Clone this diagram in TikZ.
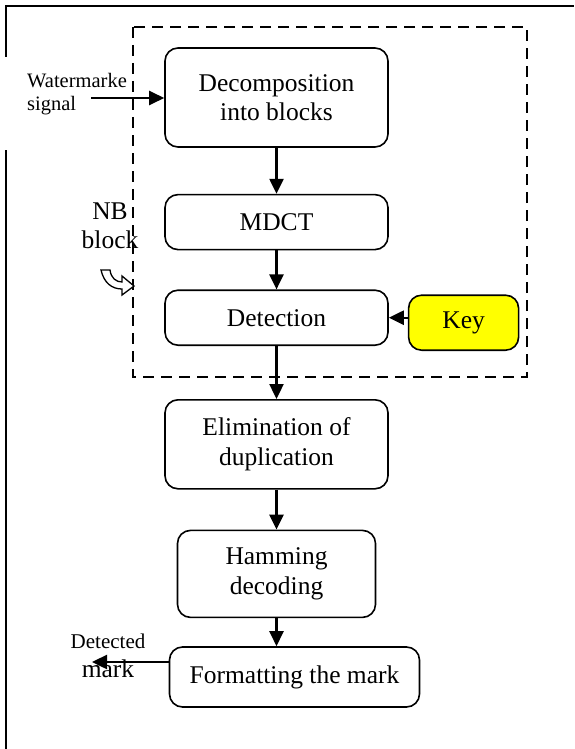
\documentclass[tikz,border=0pt]{standalone}
\usepackage{fontspec}
\setmainfont{Liberation Serif}
\usetikzlibrary{positioning}
\usetikzlibrary{arrows.meta}
\definecolor{keyyellow}{RGB}{255, 255, 0}

\begin{document}
\begin{tikzpicture}[x=1pt,y=-1pt,
  box/.style={rectangle,draw=black,line width=1.6pt,rounded corners=13pt,
    minimum width=223pt,minimum height=55pt,align=center,
    font=\fontsize{25.5}{29.5}\selectfont},
  keybox/.style={box,fill=keyyellow,minimum width=110pt},
  arr/.style={-{Triangle[length=15pt,width=14pt]},line width=2.4pt},
  lbl/.style={align=center,inner sep=0pt,font=\fontsize{25.5}{29.5}\selectfont},
  dashbox/.style={line width=2.8pt,dash pattern=on 11pt off 7pt}
]
  \useasboundingbox (0,0) rectangle (574,749);
  % frame
  \draw[line width=1.4pt] (6,57) -- (6,6) -- (574,6);
  \draw[line width=1.4pt] (6,150) -- (6,749);
  % NB block region
  \draw[dashbox] (133,27) rectangle (527,377);

  \node[box,minimum height=99pt] (dec) at (276.5,97.5)
    {Decomposition\\into blocks};
  \node[box,below=46pt of dec] (mdct) {MDCT};
  \node[box,below=39pt of mdct] (det) {Detection};
  \node[keybox,right=19pt of det,yshift=-5pt] (key) {Key};
  \node[box,minimum height=89pt,below=53pt of det] (elim)
    {Elimination of\\duplication};
  \node[box,minimum width=198pt,minimum height=87pt,below=40pt of elim] (ham)
    {Hamming\\decoding};
  \node[box,minimum width=250pt,minimum height=60pt,below=28pt of ham,
    xshift=18pt] (fmt) {Formatting the mark};

  \node[lbl,align=left,anchor=west,font=\fontsize{20.5}{23}\selectfont] (wm)
    at (27,94) {Watermarke\\signal};
  \node[lbl] (nb) at (110,226) {NB\\block};
  \node[lbl] (out) at (108,656)
    {{\fontsize{21}{24}\selectfont Detected}\\mark};

  \coordinate (wmstart) at (91,98);
  \coordinate (outend) at (92,662);

  \draw[arr] (wmstart) -- (wmstart -| dec.west);
  \draw[arr] (dec) -- (mdct);
  \draw[arr] (mdct) -- (det);
  \draw[arr] (key.west |- det.east) -- (det.east);
  \draw[arr] (det) -- (elim);
  \draw[arr] (elim) -- (elim.south |- ham.north);
  \draw[arr] (ham.south) -- (ham.south |- fmt.north);
  \draw[arr] (fmt.west |- outend) -- (outend);

  % hollow curved arrow
  \draw[line width=1.3pt,fill=white,line join=miter]
    (101,270) .. controls (104,283) and (112,289) .. (122,289)
    -- (122,295) -- (134,286) -- (122,276) -- (122,282)
    .. controls (116,282) and (111,278) .. (110,270) -- cycle;
\end{tikzpicture}
\end{document}
